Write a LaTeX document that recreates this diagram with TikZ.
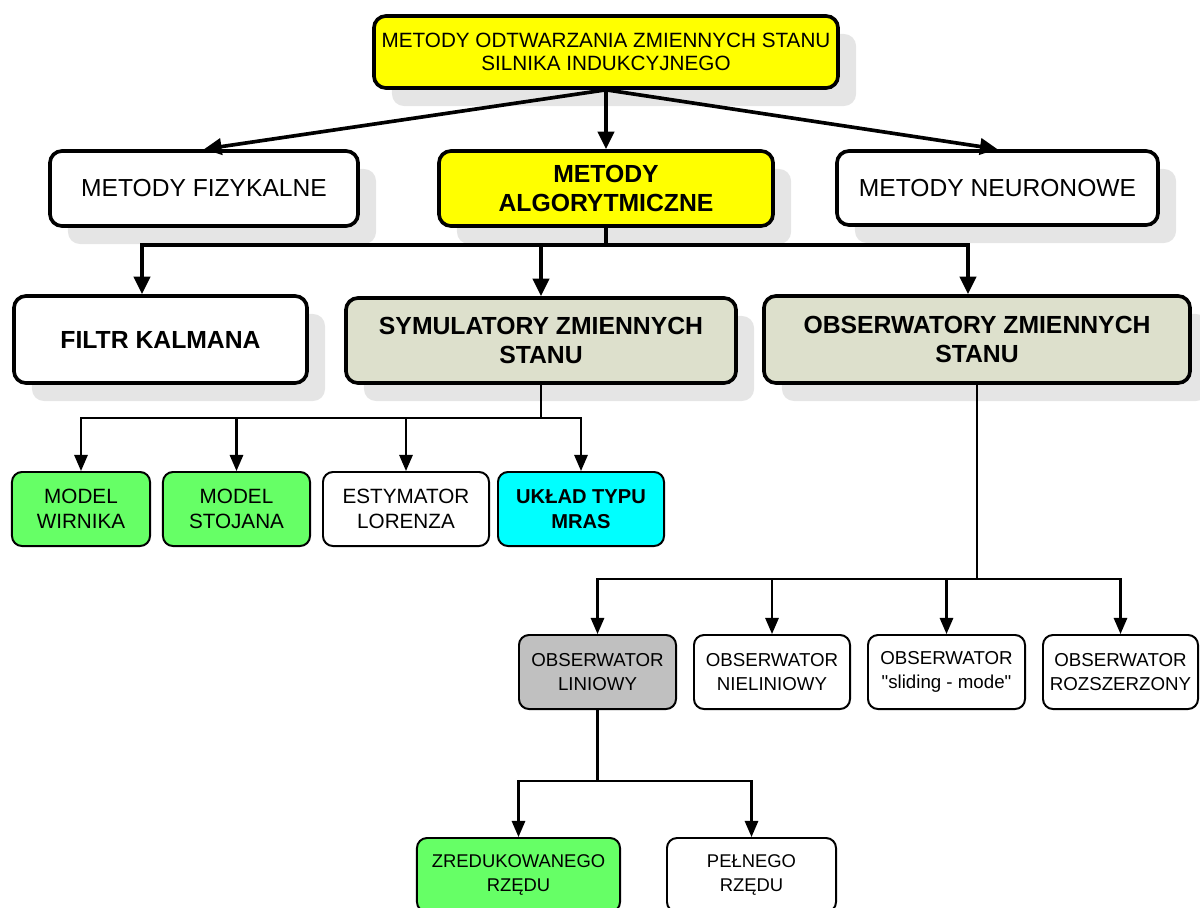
\documentclass[tikz,border=0pt]{standalone}
\usepackage{fontspec}
\setmainfont{Liberation Sans}
\newfontfamily\prosty{Liberation Sans}
\usetikzlibrary{arrows.meta,calc,shadows}
\definecolor{zolty}{RGB}{255,255,0}
\definecolor{oliwka}{RGB}{221,224,204}
\definecolor{zielony}{RGB}{102,255,102}
\definecolor{cyjan}{RGB}{0,255,255}
\definecolor{szary}{RGB}{192,192,192}
\begin{document}
\begin{tikzpicture}[x=0.025cm,y=-0.025cm,
		box/.style={draw,rounded corners=0.3cm,line width=2.6pt,align=center,inner sep=0pt,
			general shadow={fill=black!10,shadow xshift=0.45cm,shadow yshift=-0.45cm}},
		maly/.style={draw,rounded corners=0.25cm,line width=1.4pt,align=center,inner sep=0pt,
			minimum height=1.85cm,font=\fontsize{13.3}{17.5}\selectfont},
		gruba/.style={line width=2.6pt,-{Triangle[length=12.5pt,width=11.5pt]}},
		cienka/.style={line width=1.5pt,-{Triangle[length=11.5pt,width=9.5pt]}}]
		\useasboundingbox (0,0) rectangle (1200,907);
		% poziom 1
		\node[box,fill=zolty,minimum width=11.6cm,minimum height=1.8cm,font=\fontsize{14.7}{16.5}\selectfont] (top) at (606,52)
			{METODY ODTWARZANIA ZMIENNYCH STANU\\SILNIKA INDUKCYJNEGO};
		% poziom 2
		\node[box,fill=white,minimum width=7.7cm,minimum height=1.875cm,font=\fontsize{17.5}{20.5}\selectfont] (fiz) at (204,188.5)
			{METODY FIZYKALNE};
		\node[box,fill=zolty,minimum width=8.35cm,minimum height=1.875cm,font=\fontsize{17.6}{20.5}\selectfont\bfseries] (alg) at (606,188.5)
			{METODY\\ALGORYTMICZNE};
		\node[box,fill=white,minimum width=8.025cm,minimum height=1.85cm,font=\fontsize{17.5}{20.5}\selectfont] (neu) at (997.5,188)
			{METODY NEURONOWE};
		% poziom 3
		\node[box,fill=white,minimum width=7.325cm,minimum height=2.175cm,font=\fontsize{17.6}{20}\selectfont\bfseries] (kal) at (160.5,339.5)
			{FILTR KALMANA};
		\node[box,fill=oliwka,minimum width=9.75cm,minimum height=2.125cm,font=\fontsize{17.6}{20}\selectfont\bfseries] (sym) at (541,340.5)
			{SYMULATORY ZMIENNYCH\\STANU};
		\node[box,fill=oliwka,minimum width=10.65cm,minimum height=2.175cm,font=\fontsize{17.6}{20}\selectfont\bfseries] (obs) at (977,339.5)
			{OBSERWATORY ZMIENNYCH\\STANU};
		% poziom 4
		\node[maly,fill=zielony,minimum width=3.45cm,font=\fontsize{14.7}{18}\selectfont] (wir) at (81,509) {MODEL\\WIRNIKA};
		\node[maly,fill=zielony,minimum width=3.675cm,font=\fontsize{14.7}{18}\selectfont] (sto) at (236.5,509) {MODEL\\STOJANA};
		\node[maly,fill=white,minimum width=4.15cm,font=\fontsize{14.7}{18}\selectfont] (lor) at (406,509) {ESTYMATOR\\LORENZA};
		\node[maly,fill=cyjan,minimum width=4.15cm,font=\fontsize{14.3}{18}\selectfont\bfseries] (mras) at (581,509) {UKŁAD TYPU\\MRAS};
		% poziom 5
		\node[maly,fill=szary,minimum width=3.925cm] (lin) at (597.5,672) {OBSERWATOR\\LINIOWY};
		\node[maly,fill=white,minimum width=3.9cm] (nie) at (772,672) {OBSERWATOR\\NIELINIOWY};
		\node[maly,fill=white,minimum width=3.925cm] (sli) at (946.5,672) {OBSERWATOR\\{\prosty"}sliding - mode{\prosty"}};
		\node[maly,fill=white,minimum width=3.875cm] (roz) at (1120.5,672) {OBSERWATOR\\ROZSZERZONY};
		% poziom 6
		\node[maly,fill=zielony,minimum width=5.075cm,font=\fontsize{13.1}{17}\selectfont] (zre) at (518.5,875) {ZREDUKOWANEGO\\RZĘDU};
		\node[maly,fill=white,minimum width=4.225cm,font=\fontsize{13.1}{17}\selectfont] (pel) at (751.5,875) {PEŁNEGO\\RZĘDU};
		% strzalki
		\draw[gruba] (top.south) -- (fiz.north);
		\draw[gruba] (top.south) -- (alg.north);
		\draw[gruba] (top.south) -- (neu.north);
		\draw[gruba] (alg.south) -- ++(0,17) -| ($(kal.north)+(-18.5,0)$);
		\draw[gruba] (alg.south) -- ++(0,17) -| (sym.north);
		\draw[gruba] (alg.south) -- ++(0,17) -| ($(obs.north)+(-9,0)$);
		\foreach \n in {wir,sto,lor,mras}
			\draw[cienka] (sym.south) -- ++(0,33) -| (\n.north);
		\foreach \n in {lin,nie,sli,roz}
			\draw[cienka] (obs.south) -- ++(0,194) -| (\n.north);
		\foreach \n in {zre,pel}
			\draw[cienka] (lin.south) -- ++(0,71) -| (\n.north);
	\end{tikzpicture}
\end{document}
